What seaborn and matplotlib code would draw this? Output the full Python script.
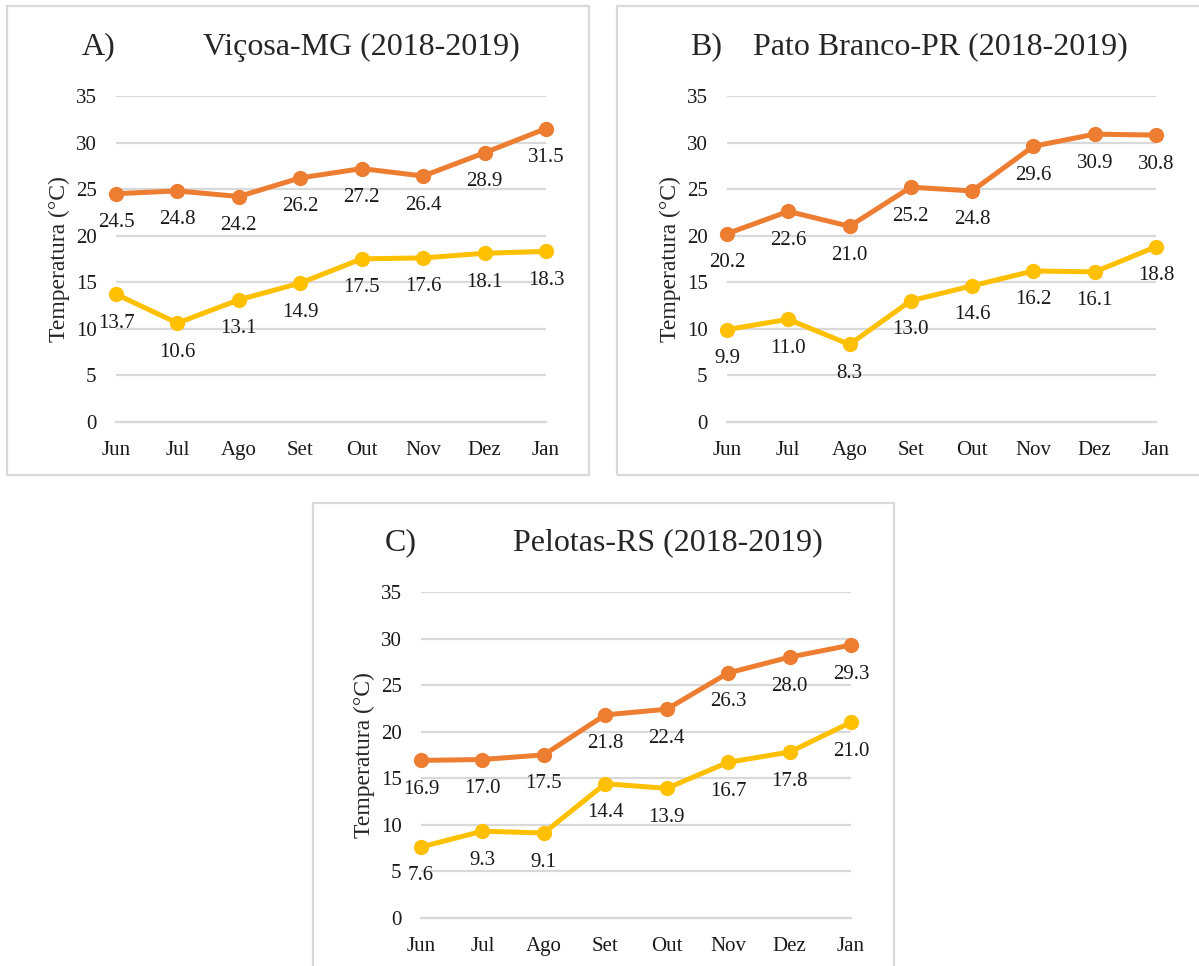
import pandas as pd
import matplotlib.pyplot as plt
import matplotlib.patches as mpatches
import seaborn as sns

# Dados de temperatura (máxima e mínima) por mês
meses = ['Jun', 'Jul', 'Ago', 'Set', 'Out', 'Nov', 'Dez', 'Jan']

vicosa_max = [24.5, 24.8, 24.2, 26.2, 27.2, 26.4, 28.9, 31.5]
vicosa_min = [13.7, 10.6, 13.1, 14.9, 17.5, 17.6, 18.1, 18.3]

pato_max = [20.2, 22.6, 21.0, 25.2, 24.8, 29.6, 30.9, 30.8]
pato_min = [9.9, 11.0, 8.3, 13.0, 14.6, 16.2, 16.1, 18.8]

pelotas_max = [16.9, 17.0, 17.5, 21.8, 22.4, 26.3, 28.0, 29.3]
pelotas_min = [7.6, 9.3, 9.1, 14.4, 13.9, 16.7, 17.8, 21.0]

yticks = [0, 5, 10, 15, 20, 25, 30, 35]

sns.set_theme(style='white')
plt.rcParams['font.family'] = ['Liberation Serif', 'DejaVu Serif']

W, H = 1199, 966
fig = plt.figure(figsize=(W / 100, H / 100), dpi=100)
fig.patch.set_facecolor('white')

grid_c = '#d9d9d9'
cores = {'max': '#ed7d31', 'min': '#ffc000'}


def px_axes(left, right, top, bottom):
    return fig.add_axes([left / W, 1 - bottom / H, (right - left) / W, (bottom - top) / H])


def moldura(x0, y0, x1, y1):
    r = mpatches.Rectangle((x0 / W, 1 - y1 / H), (x1 - x0) / W, (y1 - y0) / H,
                           transform=fig.transFigure, fill=False,
                           edgecolor=grid_c, linewidth=1.6, zorder=0)
    fig.patches.append(r)


def painel(ax, tmax, tmin, letra, titulo, letra_x, titulo_x, titulo_y):
    df = pd.DataFrame({
        'pos': list(range(len(meses))) * 2,
        'temp': tmax + tmin,
        'serie': ['max'] * len(meses) + ['min'] * len(meses),
    })
    sns.lineplot(data=df, x='pos', y='temp', hue='serie', palette=cores,
                 marker='o', markersize=11, markeredgewidth=0, linewidth=3.6,
                 legend=False, ax=ax, clip_on=False, zorder=3)
    for serie_vals in (tmax, tmin):
        for i, v in enumerate(serie_vals):
            ax.annotate(f'{v:.1f}', (i, v), xytext=(0, -29), textcoords='offset pixels',
                        ha='center', va='center', fontsize=15, color='#1a1a1a', zorder=4)
    ax.set_xlim(0, len(meses) - 1)
    ax.set_ylim(0, 35)
    ax.set_yticks(yticks)
    ax.set_xticks(range(len(meses)))
    ax.set_xticklabels(meses)
    ax.set_xlabel('')
    ax.set_ylabel('Temperatura (°C)', fontsize=17, labelpad=4)
    for s in ['top', 'right', 'left']:
        ax.spines[s].set_visible(False)
    ax.spines['bottom'].set_color(grid_c)
    ax.spines['bottom'].set_linewidth(1.6)
    ax.yaxis.grid(True, color=grid_c, linewidth=1.6)
    ax.xaxis.grid(False)
    ax.set_axisbelow(True)
    ax.tick_params(axis='y', length=0, pad=14, labelsize=15, labelcolor='#1a1a1a')
    ax.tick_params(axis='x', length=4, width=1.6, color=grid_c, pad=10,
                   labelsize=15, labelcolor='#1a1a1a', direction='out')
    ax.set_facecolor('none')
    fig.text(letra_x / W, 1 - titulo_y / H, letra, fontsize=23, ha='left', va='center')
    fig.text(titulo_x / W, 1 - titulo_y / H, titulo, fontsize=23, ha='left', va='center')


moldura(7, 6, 589, 475)
moldura(617, 6, 1205, 475)
moldura(313, 503, 894, 975)

ax1 = px_axes(116, 546, 96, 421.7)
painel(ax1, vicosa_max, vicosa_min, 'A)', 'Viçosa-MG (2018-2019)', 82, 203, 47)

ax2 = px_axes(727, 1156, 96, 421.7)
painel(ax2, pato_max, pato_min, 'B)', 'Pato Branco-PR (2018-2019)', 690, 753, 47)

ax3 = px_axes(421, 851, 592, 917.7)
painel(ax3, pelotas_max, pelotas_min, 'C)', 'Pelotas-RS (2018-2019)', 385, 513, 543)

plt.savefig('out.png', dpi=100)
